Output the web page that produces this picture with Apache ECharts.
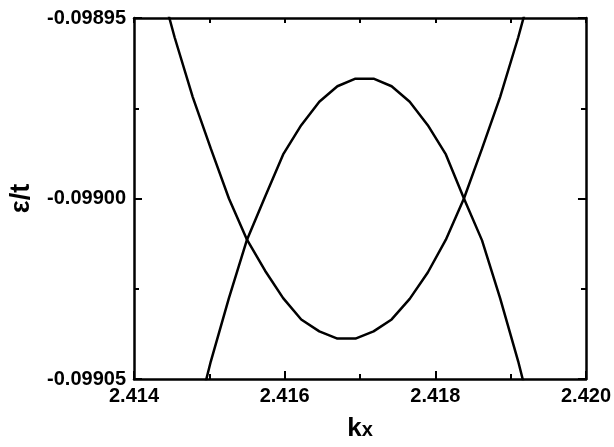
<!DOCTYPE html>
<html>
<head>
<meta charset="utf-8">
<script src="https://cdn.jsdelivr.net/npm/echarts@6/dist/echarts.min.js"></script>
<style>
html,body{margin:0;padding:0;background:#fff;}
#chart{width:614px;height:447px;}
</style>
</head>
<body>
<div id="chart"></div>
<script>
// k_x sample points
const kx = [2.41430, 2.41454, 2.41478, 2.41502, 2.41526, 2.41550, 2.41574, 2.41598, 2.41622, 2.41646, 2.41670,
            2.41694, 2.41718, 2.41742, 2.41766, 2.41790, 2.41814, 2.41838, 2.41862, 2.41886, 2.41910, 2.41934];
// lower band (U shape)
const bandLower = [-0.0989370, -0.0989554, -0.0989719, -0.0989862, -0.0990000, -0.0990114, -0.0990200, -0.0990276,
                   -0.0990335, -0.0990368, -0.0990388, -0.0990388, -0.0990368, -0.0990335, -0.0990278, -0.0990205,
                   -0.0990114, -0.0990000, -0.0989862, -0.0989719, -0.0989554, -0.0989370];
// upper band (cap shape)
const bandUpper = [null, null, -0.0990649, -0.0990451, -0.0990276, -0.0990114, -0.0989995, -0.0989878,
                   -0.0989797, -0.0989732, -0.0989689, -0.0989668, -0.0989668, -0.0989689, -0.0989732, -0.0989797,
                   -0.0989878, -0.0990000, -0.0990116, -0.0990276, -0.0990451, -0.0990649];
const xRange = {min: 2.414, max: 2.420, interval: 0.002};
const yRange = {min: -0.09905, max: -0.09895, interval: 0.00005};
const xTitle = '{k|k}{s|x}';
const yTitle = 'ε/t';

const FONT = '"Liberation Sans", Arial, sans-serif';
const pair = (ys) => kx.map((x, i) => [x, ys[i]]);

const chart = echarts.init(document.getElementById('chart'), null, {renderer: 'canvas'});
const lineAxis = {lineStyle: {color: '#000', width: 2.5}};
const tickStyle = {color: '#000', width: 2};
chart.setOption({
  animation: false,
  backgroundColor: '#fff',
  grid: {left: 132, top: 18, right: 24, bottom: 59, containLabel: false},
  xAxis: [
    {
      type: 'value', position: 'bottom', min: xRange.min, max: xRange.max, interval: xRange.interval,
      axisLine: lineAxis,
      axisTick: {inside: true, length: 8, lineStyle: tickStyle},
      minorTick: {show: true, splitNumber: 2, length: 5, lineStyle: tickStyle},
      splitLine: {show: false},
      axisLabel: {color: '#000', fontSize: 20, fontWeight: 'bold', fontFamily: FONT, margin: 7,
                  formatter: v => v.toFixed(3)},
      name: xTitle, nameLocation: 'middle', nameGap: 37,
      nameTextStyle: {
        rich: {
          k: {fontSize: 26, fontWeight: 'bold', fontFamily: FONT, color: '#000', verticalAlign: 'top', lineHeight: 24},
          s: {fontSize: 20, fontWeight: 'bold', fontFamily: FONT, color: '#000', verticalAlign: 'bottom', lineHeight: 18}
        }
      }
    },
    {
      type: 'value', position: 'top', min: xRange.min, max: xRange.max, interval: xRange.interval,
      axisLine: lineAxis,
      axisTick: {inside: true, length: 5, lineStyle: tickStyle},
      minorTick: {show: true, splitNumber: 2, length: 5, lineStyle: tickStyle},
      splitLine: {show: false},
      axisLabel: {show: false}
    }
  ],
  yAxis: [
    {
      type: 'value', position: 'left', min: yRange.min, max: yRange.max, interval: yRange.interval,
      axisLine: lineAxis,
      axisTick: {inside: true, length: 8, lineStyle: tickStyle},
      minorTick: {show: true, splitNumber: 2, length: 5, lineStyle: tickStyle},
      splitLine: {show: false},
      axisLabel: {color: '#000', fontSize: 20, fontWeight: 'bold', fontFamily: FONT, margin: 8,
                  formatter: v => v.toFixed(5)},
      name: yTitle, nameLocation: 'middle', nameGap: 99,
      nameTextStyle: {fontSize: 27, fontWeight: 'bold', fontFamily: FONT, color: '#000'}
    },
    {
      type: 'value', position: 'right', min: yRange.min, max: yRange.max, interval: yRange.interval,
      axisLine: lineAxis,
      axisTick: {inside: true, length: 8, lineStyle: tickStyle},
      minorTick: {show: true, splitNumber: 2, length: 5, lineStyle: tickStyle},
      splitLine: {show: false},
      axisLabel: {show: false}
    }
  ],
  series: [
    {type: 'line', xAxisIndex: 0, yAxisIndex: 0, data: pair(bandLower), showSymbol: false, clip: true,
     lineStyle: {color: '#000', width: 2.5}},
    {type: 'line', xAxisIndex: 0, yAxisIndex: 0, data: pair(bandUpper), showSymbol: false, clip: true,
     lineStyle: {color: '#000', width: 2.5}}
  ]
});
</script>
</body>
</html>
